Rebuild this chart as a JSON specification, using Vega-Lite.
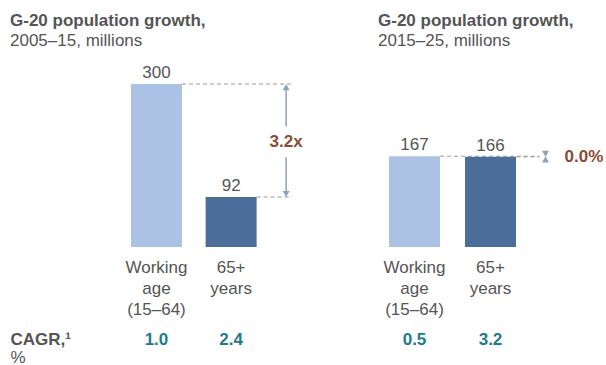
{
  "$schema": "https://vega.github.io/schema/vega-lite/v6.json",
  "autosize": {"type": "pad"},
  "padding": {"left": 10, "top": 12, "right": 0, "bottom": 0},
  "background": "white",
  "spacing": 75,
  "config": {
    "view": {"stroke": null},
    "font": "Liberation Sans",
    "axisX": {"domain": false, "ticks": false, "tickSize": 0, "labelFontSize": 17, "labelColor": "#555555", "labelPadding": 12, "labelLineHeight": 21, "labelAngle": 0, "labelFont": "Liberation Sans", "grid": false},
    "title": {"anchor": "start", "frame": "group", "fontSize": 17, "fontWeight": "bold", "color": "#555555", "subtitleFontSize": 17, "subtitleColor": "#555555", "subtitlePadding": 3, "font": "Liberation Sans", "subtitleFont": "Liberation Sans"}
  },
  "datasets": {
    "bars": [
      {"period": "2005–15", "group": "Working age (15–64)", "value": 300},
      {"period": "2005–15", "group": "65+ years", "value": 92},
      {"period": "2015–25", "group": "Working age (15–64)", "value": 167},
      {"period": "2015–25", "group": "65+ years", "value": 166}
    ],
    "cagr": [
      {"period": "2005–15", "group": "Working age (15–64)", "cagr": 1.0},
      {"period": "2005–15", "group": "65+ years", "cagr": 2.4},
      {"period": "2015–25", "group": "Working age (15–64)", "cagr": 0.5},
      {"period": "2015–25", "group": "65+ years", "cagr": 3.2}
    ],
    "ratio": [
      {"period": "2005–15", "label": "3.2x"},
      {"period": "2015–25", "label": "0.0%"}
    ]
  },
  "hconcat": [
    {
      "width": 275,
      "height": 163,
      "title": {"text": "G-20 population growth,", "subtitle": "2005–15, millions", "offset": 14},
      "layer": [
        {
          "data": {"name": "bars"},
          "transform": [{"filter": "datum.period === '2005–15'"}],
          "mark": {"type": "rule", "strokeDash": [4, 3], "color": "#9a9a9a", "strokeWidth": 1, "xOffset": 25.5, "x2Offset": 61},
          "encoding": {
            "x": {"field": "group", "type": "nominal", "title": null},
            "x2": {"datum": "65+ years"},
            "y": {"field": "value", "type": "quantitative", "scale": {"domain": [0, 300], "nice": false}, "axis": null}
          }
        },
        {
          "data": {"name": "bars"},
          "transform": [{"filter": "datum.period === '2005–15'"}],
          "mark": {"type": "bar"},
          "encoding": {
            "x": {"field": "group", "type": "nominal", "title": null, "sort": null,
              "scale": {"domain": ["Working age (15–64)", "65+ years"], "paddingInner": 0.317, "paddingOuter": 1, "align": 0.81},
              "axis": {"labelExpr": "datum.value == 'Working age (15–64)' ? ['Working', 'age', '(15–64)'] : ['65+', 'years']"}},
            "y": {"field": "value", "type": "quantitative", "scale": {"domain": [0, 300], "nice": false}, "axis": null},
            "color": {"field": "group", "type": "nominal", "legend": null,
              "scale": {"domain": ["Working age (15–64)", "65+ years"], "range": ["#abc2e4", "#4a6d99"]}}
          }
        },
        {
          "data": {"name": "bars"},
          "transform": [{"filter": "datum.period === '2005–15'"}],
          "mark": {"type": "text", "baseline": "alphabetic", "dy": -6, "fontSize": 17, "color": "#555555"},
          "encoding": {
            "x": {"field": "group", "type": "nominal", "title": null},
            "y": {"field": "value", "type": "quantitative", "scale": {"domain": [0, 300], "nice": false}, "axis": null},
            "text": {"field": "value", "type": "quantitative"}
          }
        },
        {
          "data": {"name": "ratio"},
          "transform": [{"filter": "datum.period === '2005–15'"}],
          "mark": {"type": "rule", "color": "#8fa3b8", "strokeWidth": 1.5, "xOffset": 55},
          "encoding": {
            "x": {"datum": "65+ years", "type": "nominal", "title": null},
            "y": {"datum": 294, "type": "quantitative", "scale": {"domain": [0, 300], "nice": false}, "axis": null},
            "y2": {"datum": 222}
          }
        },
        {
          "data": {"name": "ratio"},
          "transform": [{"filter": "datum.period === '2005–15'"}],
          "mark": {"type": "rule", "color": "#8fa3b8", "strokeWidth": 1.5, "xOffset": 55},
          "encoding": {
            "x": {"datum": "65+ years", "type": "nominal", "title": null},
            "y": {"datum": 165, "type": "quantitative", "scale": {"domain": [0, 300], "nice": false}, "axis": null},
            "y2": {"datum": 98}
          }
        },
        {
          "data": {"name": "ratio"},
          "transform": [{"filter": "datum.period === '2005–15'"}],
          "mark": {"type": "point", "filled": true, "size": 49, "opacity": 1, "color": "#8fa3b8", "strokeWidth": 0, "xOffset": 55, "shape": "M0,0L-1,1.75L1,1.75Z"},
          "encoding": {
            "x": {"datum": "65+ years", "type": "nominal", "title": null},
            "y": {"datum": 300, "type": "quantitative", "scale": {"domain": [0, 300], "nice": false}, "axis": null}
          }
        },
        {
          "data": {"name": "ratio"},
          "transform": [{"filter": "datum.period === '2005–15'"}],
          "mark": {"type": "point", "filled": true, "size": 49, "opacity": 1, "color": "#8fa3b8", "strokeWidth": 0, "xOffset": 55, "shape": "M0,0L-1,-1.75L1,-1.75Z"},
          "encoding": {
            "x": {"datum": "65+ years", "type": "nominal", "title": null},
            "y": {"datum": 92, "type": "quantitative", "scale": {"domain": [0, 300], "nice": false}, "axis": null}
          }
        },
        {
          "data": {"name": "ratio"},
          "transform": [{"filter": "datum.period === '2005–15'"}],
          "mark": {"type": "text", "fontSize": 17, "fontWeight": "bold", "color": "#8b4b35", "xOffset": 55, "align": "center", "baseline": "middle"},
          "encoding": {
            "x": {"datum": "65+ years", "type": "nominal", "title": null},
            "y": {"datum": 194, "type": "quantitative", "scale": {"domain": [0, 300], "nice": false}, "axis": null},
            "text": {"field": "label", "type": "nominal"}
          }
        },
        {
          "data": {"name": "cagr"},
          "transform": [{"filter": "datum.period === '2005–15'"}],
          "mark": {"type": "text", "fontSize": 17, "fontWeight": "bold", "color": "#207b8a", "baseline": "middle"},
          "encoding": {
            "x": {"field": "group", "type": "nominal", "title": null},
            "y": {"datum": -171, "type": "quantitative", "scale": {"domain": [0, 300], "nice": false}, "axis": null},
            "text": {"field": "cagr", "type": "quantitative", "format": ".1f"}
          }
        },
        {
          "data": {"name": "ratio"},
          "transform": [{"filter": "datum.period === '2005–15'"}],
          "mark": {"type": "text", "fontSize": 17, "fontWeight": "bold", "color": "#555555", "xOffset": -146, "align": "left", "baseline": "middle"},
          "encoding": {
            "x": {"datum": "Working age (15–64)", "type": "nominal", "title": null},
            "y": {"datum": -171, "type": "quantitative", "scale": {"domain": [0, 300], "nice": false}, "axis": null},
            "text": {"value": "CAGR,¹"}
          }
        },
        {
          "data": {"name": "ratio"},
          "transform": [{"filter": "datum.period === '2005–15'"}],
          "mark": {"type": "text", "fontSize": 17, "color": "#555555", "xOffset": -146, "align": "left", "baseline": "middle"},
          "encoding": {
            "x": {"datum": "Working age (15–64)", "type": "nominal", "title": null},
            "y": {"datum": -205, "type": "quantitative", "scale": {"domain": [0, 300], "nice": false}, "axis": null},
            "text": {"value": "%"}
          }
        }
      ]
    },
    {
      "width": 215,
      "height": 163,
      "title": {"text": "G-20 population growth,", "subtitle": "2015–25, millions", "offset": 34},
      "layer": [
        {
          "data": {"name": "bars"},
          "transform": [{"filter": "datum.period === '2015–25'"}],
          "mark": {"type": "rule", "strokeDash": [4, 3], "color": "#9a9a9a", "strokeWidth": 1, "xOffset": 25.5, "x2Offset": 49},
          "encoding": {
            "x": {"field": "group", "type": "nominal", "title": null},
            "x2": {"datum": "65+ years"},
            "y": {"field": "value", "type": "quantitative", "scale": {"domain": [0, 300], "nice": false}, "axis": null}
          }
        },
        {
          "data": {"name": "bars"},
          "transform": [{"filter": "datum.period === '2015–25'"}],
          "mark": {"type": "bar"},
          "encoding": {
            "x": {"field": "group", "type": "nominal", "title": null, "sort": null,
              "scale": {"domain": ["Working age (15–64)", "65+ years"], "paddingInner": 0.329, "paddingOuter": 0.579, "align": 0.125},
              "axis": {"labelExpr": "datum.value == 'Working age (15–64)' ? ['Working', 'age', '(15–64)'] : ['65+', 'years']"}},
            "y": {"field": "value", "type": "quantitative", "scale": {"domain": [0, 300], "nice": false}, "axis": null},
            "color": {"field": "group", "type": "nominal", "legend": null,
              "scale": {"domain": ["Working age (15–64)", "65+ years"], "range": ["#abc2e4", "#4a6d99"]}}
          }
        },
        {
          "data": {"name": "bars"},
          "transform": [{"filter": "datum.period === '2015–25'"}],
          "mark": {"type": "text", "baseline": "alphabetic", "dy": -6, "fontSize": 17, "color": "#555555"},
          "encoding": {
            "x": {"field": "group", "type": "nominal", "title": null},
            "y": {"field": "value", "type": "quantitative", "scale": {"domain": [0, 300], "nice": false}, "axis": null},
            "text": {"field": "value", "type": "quantitative"}
          }
        },
        {
          "data": {"name": "ratio"},
          "transform": [{"filter": "datum.period === '2015–25'"}],
          "mark": {"type": "point", "filled": true, "size": 49, "opacity": 1, "color": "#8fa3b8", "strokeWidth": 0, "xOffset": 55, "shape": "M0,0L-1,1.75L1,1.75Z"},
          "encoding": {
            "x": {"datum": "65+ years", "type": "nominal", "title": null},
            "y": {"datum": 167, "type": "quantitative", "scale": {"domain": [0, 300], "nice": false}, "axis": null}
          }
        },
        {
          "data": {"name": "ratio"},
          "transform": [{"filter": "datum.period === '2015–25'"}],
          "mark": {"type": "point", "filled": true, "size": 49, "opacity": 1, "color": "#8fa3b8", "strokeWidth": 0, "xOffset": 55, "shape": "M0,0L-1,-1.75L1,-1.75Z"},
          "encoding": {
            "x": {"datum": "65+ years", "type": "nominal", "title": null},
            "y": {"datum": 166, "type": "quantitative", "scale": {"domain": [0, 300], "nice": false}, "axis": null}
          }
        },
        {
          "data": {"name": "ratio"},
          "transform": [{"filter": "datum.period === '2015–25'"}],
          "mark": {"type": "text", "fontSize": 17, "fontWeight": "bold", "color": "#8b4b35", "xOffset": 74, "align": "left", "baseline": "middle"},
          "encoding": {
            "x": {"datum": "65+ years", "type": "nominal", "title": null},
            "y": {"datum": 166.5, "type": "quantitative", "scale": {"domain": [0, 300], "nice": false}, "axis": null},
            "text": {"field": "label", "type": "nominal"}
          }
        },
        {
          "data": {"name": "cagr"},
          "transform": [{"filter": "datum.period === '2015–25'"}],
          "mark": {"type": "text", "fontSize": 17, "fontWeight": "bold", "color": "#207b8a", "baseline": "middle"},
          "encoding": {
            "x": {"field": "group", "type": "nominal", "title": null},
            "y": {"datum": -171, "type": "quantitative", "scale": {"domain": [0, 300], "nice": false}, "axis": null},
            "text": {"field": "cagr", "type": "quantitative", "format": ".1f"}
          }
        }
      ]
    }
  ]
}
